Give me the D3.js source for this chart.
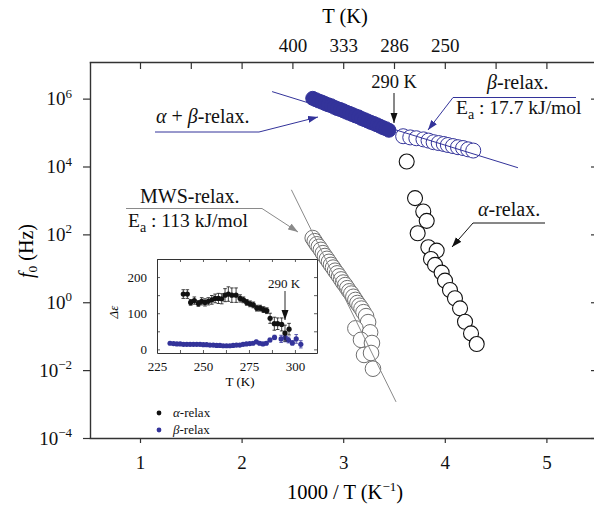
<!DOCTYPE html>
<html>
<head>
<meta charset="utf-8">
<script src="https://cdn.jsdelivr.net/npm/d3@7"></script>
<style>
  body { margin: 0; background: #fff; }
</style>
</head>
<body>
<script>
// main plot: 1000/T (K^-1) vs f0 (Hz)
const betaFillX = [2.70, 2.73, 2.76, 2.79, 2.82, 2.85, 2.88, 2.91, 2.94, 2.97, 3.00, 3.03, 3.06, 3.09, 3.12, 3.15, 3.18, 3.21, 3.24, 3.27, 3.30, 3.33, 3.36, 3.39, 3.42, 3.45];
const betaFillF = [1.02e6, 9.3e5, 8.5e5, 7.9e5, 7.2e5, 6.6e5, 6.2e5, 5.6e5, 5.1e5, 4.8e5, 4.4e5, 4.0e5, 3.7e5, 3.4e5, 3.1e5, 2.9e5, 2.6e5, 2.4e5, 2.2e5, 2.0e5, 1.86e5, 1.7e5, 1.55e5, 1.4e5, 1.3e5, 1.17e5];
const betaOpenX = [3.59, 3.66, 3.72, 3.79, 3.84, 3.89, 3.94, 3.99, 4.03, 4.08, 4.13, 4.18, 4.23, 4.28];
const betaOpenF = [7.8e4, 7.2e4, 6.8e4, 6.3e4, 5.8e4, 5.2e4, 4.9e4, 4.6e4, 4.3e4, 4.0e4, 3.7e4, 3.5e4, 3.2e4, 2.95e4];
const alphaX = [3.625, 3.707, 3.788, 3.822, 3.733, 3.838, 3.920, 3.864, 3.904, 3.969, 4.002, 4.051, 4.100, 4.150, 4.199, 4.258, 4.314];
const alphaF = [1.4e4, 1.17e3, 471, 250, 108, 41.9, 33.3, 18.9, 12.6, 7.45, 4.33, 2.30, 1.31, 0.662, 0.267, 0.121, 0.0586];
const mwsX = [2.70, 2.72, 2.74, 2.76, 2.78, 2.80, 2.82, 2.84, 2.86, 2.88, 2.90, 2.92, 2.94, 2.96, 2.98, 3.00, 3.02, 3.04, 3.06, 3.08, 3.10, 3.12, 3.14, 3.16, 3.18, 3.20, 3.225, 3.245, 3.12, 3.265, 3.175, 3.283, 3.205, 3.274, 3.293];
const mwsF = [78, 63, 51, 43, 35, 28, 23, 19, 15.5, 12.6, 10.5, 8.5, 7.1, 5.8, 4.7, 3.8, 3.2, 2.6, 2.1, 1.8, 1.45, 1.17, 0.95, 0.79, 0.65, 0.51, 0.39, 0.26, 0.17, 0.13, 0.078, 0.063, 0.028, 0.032, 0.011];
// Arrhenius fit lines (end points)
const betaFitX = [2.30, 4.72];
const betaFitF = [1.61e6, 9.2e3];
const mwsFitX = [2.49, 3.52];
const mwsFitF = [2.06e3, 1.16e-3];

// axis ticks
const bottomTicks = [1, 2, 3, 4, 5];
const topTickPos = [1, 1.5, 2, 2.5, 3, 3.5, 4, 4.5, 5, 5.5];
const topLabelsT = [400, 333, 286, 250];
const leftExps = [6, 4, 2, 0, -2, -4];

// inset: T (K) vs delta epsilon
const insetAlphaT = [239.3, 241.5, 243.3, 245.3, 247.5, 249.3, 251.1, 252.9, 254.8, 256.6, 258.4, 260.2, 262.0, 263.8, 265.7, 268.0, 270.2, 272.0, 273.8, 275.6, 277.4, 279.3, 281.1, 282.9, 284.7, 286.5, 288.8, 290.6, 292.8, 294.6, 296.8];
const insetAlphaDE = [153, 153, 130, 135, 127, 133, 130, 133, 137, 141, 141, 140, 150, 153, 150, 150, 141, 137, 130, 126, 123, 114, 114, 110, 107, 86, 71, 71, 69, 45, 56];
const insetAlphaErr = [12, 12, 8, 10, 8, 10, 10, 10, 12, 12, 14, 14, 18, 20, 20, 20, 10, 8, 8, 8, 8, 8, 8, 8, 8, 14, 18, 16, 18, 22, 16];
const insetBetaT = [232.1, 234.0, 235.8, 237.6, 239.4, 241.2, 243.0, 244.8, 246.6, 248.4, 250.2, 252.0, 253.8, 255.6, 257.4, 259.2, 261.0, 262.8, 264.6, 266.4, 268.2, 270.0, 271.8, 273.6, 275.4, 277.2, 279.0, 280.8, 282.6, 284.4, 286.4, 288.9, 292.5, 294.7, 296.5, 298.6, 300.7, 303.2];
const insetBetaDE = [17, 16, 15, 15, 14, 14, 14, 14, 14, 14, 13, 13, 12, 12, 11, 11, 10, 10, 10, 11, 12, 12, 14, 15, 16, 17, 21, 17, 15, 17, 26, 33, 29, 33, 26, 18, 29, 14];
const insetBetaErr = [3, 3, 3, 3, 3, 3, 3, 3, 3, 3, 3, 3, 3, 3, 3, 3, 3, 3, 3, 3, 3, 3, 3, 3, 3, 3, 4, 4, 4, 4, 5, 6, 10, 12, 8, 6, 12, 10];
const insetXTicks = [225, 237.5, 250, 262.5, 275, 287.5, 300];
const insetYTicks = [0, 50, 100, 150, 200];

const blue = "#33339a";
const grey = "#8a8a8a";
const axisCol = "#333";
const serif = "Liberation Serif";

const svg = d3.select("body").append("svg")
  .attr("width", 594)
  .attr("height", 506)
  .attr("font-family", serif);

// arrow heads
const defs = svg.append("defs");
[["arrBlack", "#111"], ["arrBlue", blue], ["arrGrey", grey]].forEach(([id, c]) => {
  defs.append("marker")
    .attr("id", id)
    .attr("markerUnits", "userSpaceOnUse")
    .attr("viewBox", "0 -4 10 8")
    .attr("refX", 10).attr("refY", 0)
    .attr("markerWidth", 10).attr("markerHeight", 8)
    .attr("orient", "auto")
    .append("path")
    .attr("d", "M0,-3.5L10,0L0,3.5Z")
    .attr("fill", c);
});

const x = d3.scaleLinear().domain([0.5, 5.5]).range([89.2, 597.2]);
const y = d3.scaleLog().domain([1e-4, 1.2e7]).range([438, 62]);

function styleAxis(g) {
  g.attr("font-family", serif);
  g.select(".domain").attr("stroke", axisCol).attr("stroke-width", 1.4);
  g.selectAll(".tick line").attr("stroke", axisCol).attr("stroke-width", 1.2);
  g.selectAll("text").attr("fill", "#111");
}

// bottom axis
svg.append("g")
  .attr("transform", "translate(0,438)")
  .call(d3.axisBottom(x).tickValues(bottomTicks).tickSize(5).tickPadding(13).tickFormat(d3.format("d")).tickSizeOuter(0))
  .call(styleAxis)
  .selectAll("text").attr("font-size", 19);

// top axis (T in K)
svg.append("g")
  .attr("transform", "translate(0,62)")
  .call(d3.axisTop(x).tickValues(topTickPos).tickSize(-7).tickPadding(10).tickSizeOuter(0)
    .tickFormat(v => {
      const t = topLabelsT.find(T => Math.abs(1000 / T - v) < 0.01);
      return t ? t : "";
    }))
  .call(styleAxis)
  .selectAll("text").attr("font-size", 19);

// left axis
const yLeft = svg.append("g")
  .attr("transform", "translate(90,0)")
  .call(d3.axisLeft(y).tickValues(leftExps.map(e => Math.pow(10, e))).tickSize(7).tickPadding(11).tickSizeOuter(0))
  .call(styleAxis);
yLeft.selectAll(".tick text")
  .attr("font-size", 19)
  .text(null)
  .each(function(d) {
    const e = Math.round(Math.log10(d));
    const t = d3.select(this);
    t.append("tspan").text("10");
    t.append("tspan").attr("dy", -7.5).attr("font-size", 13).text(e < 0 ? "\u2212" + (-e) : e);
  });

// right axis
svg.append("g")
  .attr("transform", "translate(597,0)")
  .call(d3.axisRight(y).tickValues(leftExps.map(e => Math.pow(10, e))).tickSize(-6).tickFormat("").tickSizeOuter(0))
  .call(styleAxis);

// axis titles
svg.append("text")
  .attr("x", 345).attr("y", 23)
  .attr("text-anchor", "middle").attr("font-size", 20.5)
  .text("T (K)");

const xt = svg.append("text")
  .attr("x", 345).attr("y", 499)
  .attr("text-anchor", "middle").attr("font-size", 20.5);
xt.append("tspan").text("1000 / T (K");
xt.append("tspan").attr("dy", -8).attr("font-size", 13).text("\u22121");
xt.append("tspan").attr("dy", 8).text(")");

const yt = svg.append("text")
  .attr("transform", "translate(33,251) rotate(-90)")
  .attr("text-anchor", "middle").attr("font-size", 20);
yt.append("tspan").attr("font-style", "italic").text("f");
yt.append("tspan").attr("dy", 4).attr("font-size", 13.5).text("0");
yt.append("tspan").attr("dy", -4).text(" (Hz)");

// data marks
const mwsData = mwsX.map((v, i) => [v, mwsF[i]]);
svg.append("g").selectAll("circle")
  .data(mwsData).join("circle")
  .attr("cx", d => x(d[0])).attr("cy", d => y(d[1]))
  .attr("r", 7.8)
  .attr("fill", "#fff").attr("stroke", "#6e6e6e").attr("stroke-width", 1);

const alphaData = alphaX.map((v, i) => [v, alphaF[i]]);
svg.append("g").selectAll("circle")
  .data(alphaData).join("circle")
  .attr("cx", d => x(d[0])).attr("cy", d => y(d[1]))
  .attr("r", 7.5)
  .attr("fill", "#fff").attr("stroke", "#111").attr("stroke-width", 1.1);

const betaOpen = betaOpenX.map((v, i) => [v, betaOpenF[i]]);
svg.append("g").selectAll("circle")
  .data(betaOpen).join("circle")
  .attr("cx", d => x(d[0])).attr("cy", d => y(d[1]))
  .attr("r", 7.5)
  .attr("fill", "#fff").attr("stroke", blue).attr("stroke-width", 1);

const betaFill = betaFillX.map((v, i) => [v, betaFillF[i]]);
svg.append("g").selectAll("circle")
  .data(betaFill).join("circle")
  .attr("cx", d => x(d[0])).attr("cy", d => y(d[1]))
  .attr("r", 7)
  .attr("fill", blue).attr("stroke", blue).attr("stroke-width", 1);

// fit lines
const line = d3.line().x(d => x(d[0])).y(d => y(d[1]));
svg.append("path")
  .attr("d", line(betaFitX.map((v, i) => [v, betaFitF[i]])))
  .attr("fill", "none").attr("stroke", blue).attr("stroke-width", 1);
svg.append("path")
  .attr("d", line(mwsFitX.map((v, i) => [v, mwsFitF[i]])))
  .attr("fill", "none").attr("stroke", grey).attr("stroke-width", 1);

// annotations
function label(xp, yp, parts, size, anchor) {
  const t = svg.append("text").attr("x", xp).attr("y", yp)
    .attr("font-size", size).attr("text-anchor", anchor || "start").attr("fill", "#111");
  parts.forEach(p => {
    const s = t.append("tspan").text(p.t);
    if (p.i) s.attr("font-style", "italic");
    if (p.sub) s.attr("dy", 4.5).attr("font-size", size * 0.72);
    if (p.back) s.attr("dy", -4.5);
  });
  return t;
}
function poly(pts, color, marker) {
  const p = svg.append("path")
    .attr("d", d3.line()(pts))
    .attr("fill", "none").attr("stroke", color).attr("stroke-width", 1);
  if (marker) p.attr("marker-end", `url(#${marker})`);
}

// 290 K
label(394, 88, [{ t: "290 K" }], 18.5, "middle");
poly([[394, 93], [394, 123]], "#111", "arrBlack");

// alpha + beta
label(156, 123, [{ t: "α", i: true }, { t: " + " }, { t: "β", i: true }, { t: "-relax." }], 20);
poly([[155, 132], [259, 132], [318, 117]], blue, "arrBlue");

// beta relax
label(487, 89, [{ t: "β", i: true }, { t: "-relax." }], 20);
poly([[576, 97.5], [453, 97.5], [428, 130]], blue, "arrBlue");
label(456, 114, [{ t: "E" }, { t: "a", sub: true }, { t: " : 17.7 kJ/mol", back: true }], 19.5);

// MWS
label(140, 203, [{ t: "MWS-relax." }], 20);
poly([[126, 208.5], [262, 208.5], [298, 232]], grey, "arrGrey");
label(128, 227, [{ t: "E" }, { t: "a", sub: true }, { t: " : 113 kJ/mol", back: true }], 19.5);

// alpha relax
label(478, 216, [{ t: "α", i: true }, { t: "-relax." }], 20);
poly([[545, 223], [473, 223], [452, 247]], "#111", "arrBlack");

// legend
svg.append("circle").attr("cx", 159).attr("cy", 413).attr("r", 2.4).attr("fill", "#111");
svg.append("circle").attr("cx", 159).attr("cy", 430).attr("r", 2.4).attr("fill", blue);
label(173, 417, [{ t: "α", i: true }, { t: "-relax" }], 13);
label(173, 434, [{ t: "β", i: true }, { t: "-relax" }], 13);

// inset
const ix = d3.scaleLinear().domain([225, 312]).range([157, 317]);
const iy = d3.scaleLinear().domain([-10, 250]).range([353, 259]);
const inset = svg.append("g");
inset.append("rect").attr("x", 157).attr("y", 259).attr("width", 160).attr("height", 94)
  .attr("fill", "#fff");

function styleInset(g) {
  g.attr("font-family", serif);
  g.select(".domain").attr("stroke", axisCol).attr("stroke-width", 1);
  g.selectAll(".tick line").attr("stroke", axisCol).attr("stroke-width", 0.8);
  g.selectAll("text").attr("fill", "#111").attr("font-size", 13);
}
inset.append("g").attr("transform", "translate(0,353)")
  .call(d3.axisBottom(ix).tickValues(insetXTicks).tickSize(-3).tickPadding(9).tickSizeOuter(0)
    .tickFormat(v => v % 25 === 0 ? v : ""))
  .call(styleInset);
inset.append("g").attr("transform", "translate(0,259)")
  .call(d3.axisTop(ix).tickValues(insetXTicks).tickSize(-3).tickFormat("").tickSizeOuter(0))
  .call(styleInset);
inset.append("g").attr("transform", "translate(157,0)")
  .call(d3.axisLeft(iy).tickValues(insetYTicks).tickSize(-3).tickPadding(10).tickSizeOuter(0)
    .tickFormat(v => v % 100 === 0 ? v : ""))
  .call(styleInset);
inset.append("g").attr("transform", "translate(317,0)")
  .call(d3.axisRight(iy).tickValues(insetYTicks).tickSize(-3).tickFormat("").tickSizeOuter(0))
  .call(styleInset);

inset.append("text").attr("x", 240).attr("y", 386).attr("text-anchor", "middle")
  .attr("font-size", 13).text("T (K)");
inset.append("text").attr("transform", "translate(118,312) rotate(-90)")
  .attr("text-anchor", "middle").attr("font-size", 13).attr("font-style", "italic").text("Δε");

function errorSeries(ts, vs, es, color) {
  const data = ts.map((t, i) => ({ t, v: vs[i], e: es[i] }));
  const g = inset.append("g");
  g.selectAll("path.err").data(data).join("path")
    .attr("class", "err")
    .attr("d", d => {
      const cx = ix(d.t), y0 = iy(d.v - d.e), y1 = iy(d.v + d.e);
      return `M${cx},${y0}V${y1}M${cx - 1.8},${y0}H${cx + 1.8}M${cx - 1.8},${y1}H${cx + 1.8}`;
    })
    .attr("stroke", color).attr("stroke-width", 0.8).attr("fill", "none");
  g.selectAll("circle").data(data).join("circle")
    .attr("cx", d => ix(d.t)).attr("cy", d => iy(d.v))
    .attr("r", 2.6).attr("fill", color);
}
errorSeries(insetBetaT, insetBetaDE, insetBetaErr, blue);
errorSeries(insetAlphaT, insetAlphaDE, insetAlphaErr, "#111");

inset.append("text").attr("x", 284).attr("y", 288).attr("text-anchor", "middle")
  .attr("font-size", 13).attr("fill", "#111").text("290 K");
inset.append("path").attr("d", d3.line()([[285, 291], [285, 320]]))
  .attr("stroke", "#111").attr("stroke-width", 0.9).attr("marker-end", "url(#arrBlack)");

// make sure every text uses the serif face
svg.selectAll("text").attr("font-family", serif);
</script>
</body>
</html>
